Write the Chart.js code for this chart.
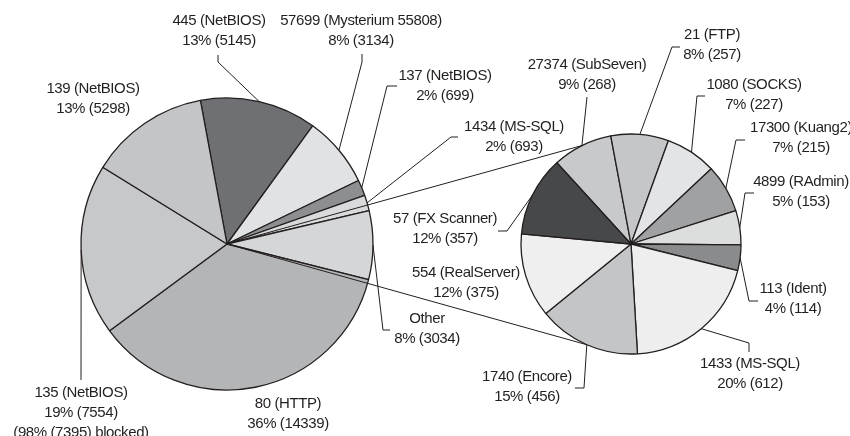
<!DOCTYPE html>
<html>
<head>
<meta charset="utf-8">
<script src="https://cdn.jsdelivr.net/npm/chart.js@4.4.1/dist/chart.umd.min.js"></script>
<style>
  html, body { margin: 0; padding: 0; background: #ffffff; }
  #wrap { position: relative; width: 850px; height: 436px; overflow: hidden; }
  #wrap canvas { position: absolute; left: 0; top: 0; }
</style>
</head>
<body>
<div id="wrap">
  <canvas id="mainPie" width="850" height="436"></canvas>
  <canvas id="otherPie" width="850" height="436"></canvas>
</div>
<script>
// ---------------- DATA ----------------
const mainPorts  = ['445 (NetBIOS)', '57699 (Mysterium 55808)', '137 (NetBIOS)', '1434 (MS-SQL)', 'Other', '80 (HTTP)', '135 (NetBIOS)', '139 (NetBIOS)'];
const mainCounts = [5145, 3134, 699, 693, 3034, 14339, 7554, 5298];
const mainNotes  = ['', '', '', '', '', '', '(98% (7395) blocked)', ''];

const otherPorts  = ['27374 (SubSeven)', '21 (FTP)', '1080 (SOCKS)', '17300 (Kuang2)', '4899 (RAdmin)', '113 (Ident)', '1433 (MS-SQL)', '1740 (Encore)', '554 (RealServer)', '57 (FX Scanner)'];
const otherCounts = [268, 257, 227, 215, 153, 114, 612, 456, 375, 357];

// ---------------- STYLES ----------------
const mainColors  = ['#6f7073', '#e1e2e3', '#8d8e90', '#d9dadb', '#d5d6d8', '#b4b5b7', '#c7c8ca', '#c4c5c7'];
const otherColors = ['#c8c9cb', '#c5c6c8', '#e3e4e5', '#a0a1a3', '#dcdddd', '#8a8b8d', '#eeeeef', '#c4c5c7', '#efefef', '#47484a'];
const INK = '#231f20';
const FONT = '15px "Liberation Sans", Arial, sans-serif';
const LINE_GAP = 20;

// ---------------- LAYOUT (label anchors + leader elbows) ----------------
const mainLabelLayout = [
  { at: [219, 21],  path: [[218, 55], [218, 62]] },
  { at: [361, 21],  path: [[362, 54], [362, 62]] },
  { at: [445, 76],  path: [[397, 86], [387, 86]] },
  { at: [514, 127], path: [[458, 137], [451, 137]] },
  { at: [427, 319], path: [[390, 330], [383, 330]] },
  { at: [288, 404], path: null },
  { at: [81, 393],  path: [[81, 380]] },
  { at: [93, 89],   path: null }
];
const otherLabelLayout = [
  { at: [587, 65],  path: [[587, 97]] },
  { at: [712, 35],  path: [[680, 47], [672, 47]] },
  { at: [754, 85],  path: [[705, 96], [697, 96]] },
  { at: [801, 128], path: [[745, 140], [736, 140]] },
  { at: [801, 182], path: [[754, 193], [745, 193]] },
  { at: [793, 289], path: [[758, 301], [749, 301]] },
  { at: [750, 364], path: [[749, 352], [749, 343]] },
  { at: [527, 377], path: [[575, 388], [584, 388]] },
  { at: [466, 273], path: null },
  { at: [445, 219], path: [[498, 231], [507, 231]] }
];
const connectorSlices = [0, 7]; // slices of the detail pie the "Other" connector lines reach

function labelPlugin(id, ports, counts, notes, layout) {
  return {
    id: id,
    afterDatasetsDraw(chart) {
      const ctx = chart.ctx;
      const meta = chart.getDatasetMeta(0);
      const total = counts.reduce((a, b) => a + b, 0);
      ctx.save();
      ctx.strokeStyle = INK;
      ctx.lineWidth = 1;
      meta.data.forEach((arc, i) => {
        const L = layout[i];
        if (L.path) {
          const p = arc.getProps(['x', 'y', 'startAngle', 'endAngle', 'outerRadius'], true);
          const a = (p.startAngle + p.endAngle) / 2;
          ctx.beginPath();
          L.path.forEach((pt, k) => k ? ctx.lineTo(pt[0], pt[1]) : ctx.moveTo(pt[0], pt[1]));
          ctx.lineTo(p.x + Math.cos(a) * p.outerRadius, p.y + Math.sin(a) * p.outerRadius);
          ctx.stroke();
        }
        const lines = [ports[i], Math.round(counts[i] / total * 100) + '% (' + counts[i] + ')'];
        if (notes && notes[i]) lines.push(notes[i]);
        ctx.fillStyle = INK;
        ctx.font = FONT;
        try { ctx.letterSpacing = '-0.4px'; } catch (e) {}
        ctx.textAlign = 'center';
        ctx.textBaseline = 'middle';
        lines.forEach((t, k) => ctx.fillText(t, L.at[0], L.at[1] + k * LINE_GAP));
      });
      ctx.restore();
    }
  };
}

function pieOptions(rotation, padding) {
  return {
    responsive: false,
    animation: false,
    rotation: rotation,
    layout: { padding: padding },
    plugins: { legend: { display: false }, tooltip: { enabled: false } }
  };
}

const mainChart = new Chart(document.getElementById('mainPie'), {
  type: 'pie',
  data: {
    labels: mainPorts,
    datasets: [{ data: mainCounts, backgroundColor: mainColors, borderColor: INK, borderWidth: 1.3 }]
  },
  options: pieOptions(-10.5, { left: 80.35, top: 97.35, right: 476.35, bottom: 45.35 }),
  plugins: [labelPlugin('mainLabels', mainPorts, mainCounts, mainNotes, mainLabelLayout)]
});

const connectorPlugin = {
  id: 'connectors',
  afterDatasetsDraw(chart) {
    const ctx = chart.ctx;
    const src = mainChart.getDatasetMeta(0).data[0].getProps(['x', 'y'], true);
    const arcs = chart.getDatasetMeta(0).data;
    ctx.save();
    ctx.strokeStyle = INK;
    ctx.lineWidth = 1;
    connectorSlices.forEach(i => {
      const p = arcs[i].getProps(['x', 'y', 'startAngle', 'endAngle', 'outerRadius'], true);
      const a = (p.startAngle + p.endAngle) / 2;
      ctx.beginPath();
      ctx.moveTo(src.x, src.y);
      ctx.lineTo(p.x + Math.cos(a) * p.outerRadius, p.y + Math.sin(a) * p.outerRadius);
      ctx.stroke();
    });
    ctx.restore();
  }
};

const otherChart = new Chart(document.getElementById('otherPie'), {
  type: 'pie',
  data: {
    labels: otherPorts,
    datasets: [{ data: otherCounts, backgroundColor: otherColors, borderColor: INK, borderWidth: 1.3 }]
  },
  options: pieOptions(-42.4, { left: 520.35, top: 133.35, right: 108.35, bottom: 81.35 }),
  plugins: [connectorPlugin, labelPlugin('otherLabels', otherPorts, otherCounts, null, otherLabelLayout)]
});
</script>
</body>
</html>
